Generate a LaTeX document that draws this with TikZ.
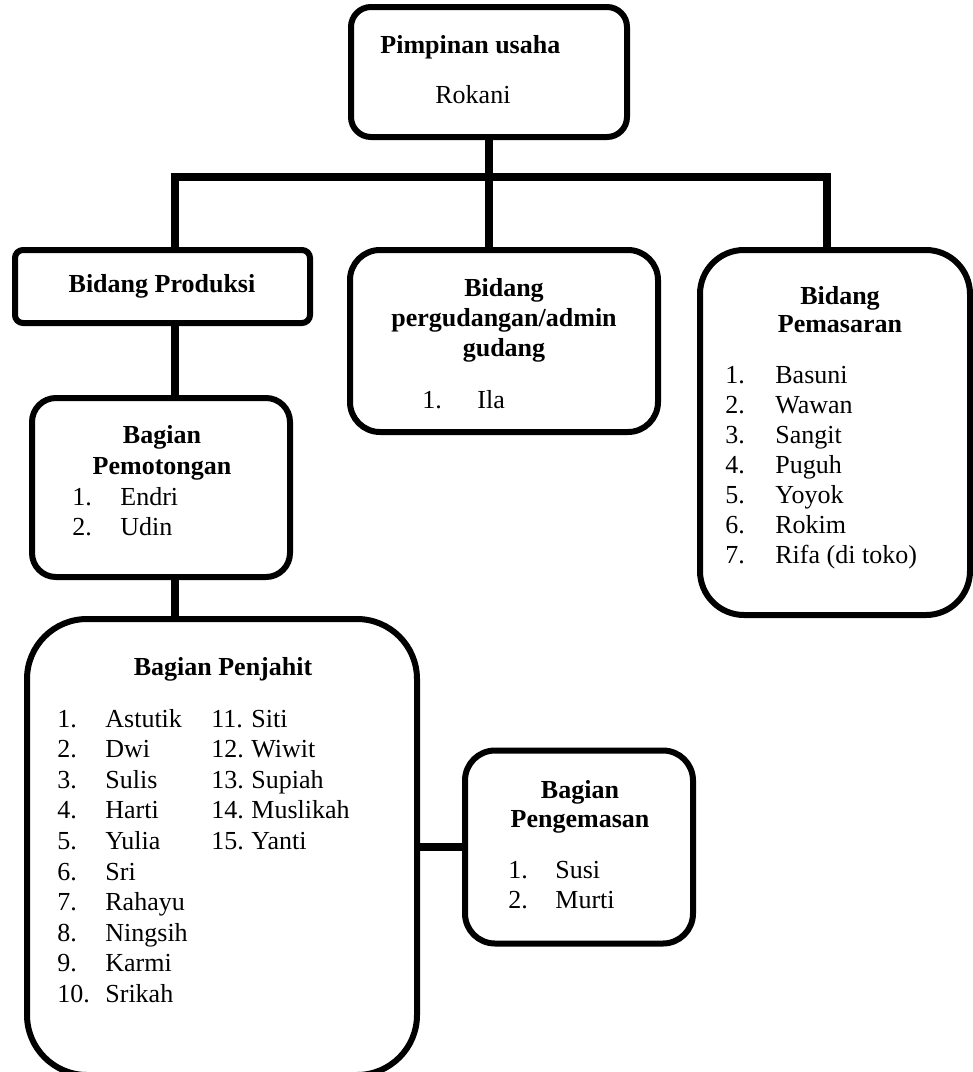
\documentclass[tikz,border=0pt]{standalone}
\usepackage{fontspec}
\setmainfont{Liberation Serif}
\usepackage{tikz}
\usetikzlibrary{calc}

\tikzset{
  box/.style={draw, line width=3pt, fill=white, rounded corners=#1, inner sep=0pt},
  link/.style={line width=4pt},
  txt/.style={inner sep=0pt, anchor=base, font=\fontsize{13}{15}\selectfont},
  ttl/.style={txt, font=\fontsize{13}{15}\selectfont\bfseries},
  lst/.style={txt, anchor=base west},
}

\begin{document}
\begin{tikzpicture}[x=0.5pt,y=-0.5pt]
  \useasboundingbox (0,0) rectangle (973,1072);
  \clip (0,0) rectangle (973,1072);
  % boxes
  \node[box=10pt, minimum width=138pt, minimum height=65pt] (pimp) at (489,72) {};
  \node[box=4pt, minimum width=147.5pt, minimum height=36.5pt] (prod) at (162.5,286.5) {};
  \node[box=15pt, minimum width=154pt, minimum height=91pt] (gud) at (504,341) {};
  \node[box=22pt, minimum width=135pt, minimum height=182.5pt] (mark) at (835,432.5) {};
  \node[box=12pt, minimum width=129pt, minimum height=89.5pt] (potong) at (161,487.5) {};
  \node[box=30pt, minimum width=195pt, minimum height=228pt] (jahit) at (222,847) {};
  \node[box=15pt, minimum width=114pt, minimum height=96.5pt] (kemas) at (579,847) {};
  % connectors
  \coordinate (busL) at (175,177);
  \coordinate (busR) at (827,177);
  \draw[link] (busL |- prod.north) -- (busL) -- (busR) -- (busR |- mark.north);
  \draw[link] (pimp.south) -- (pimp.south |- gud.north);
  \draw[link] (busL |- prod.south) -- (busL |- potong.north);
  \draw[link] (busL |- potong.south) -- (busL |- jahit.north);
  \draw[link] (jahit.east) -- (kemas.west);
  % pimpinan
  \node[ttl, anchor=base west] (pimpT) at (380,53) {Pimpinan usaha};
  \node[lst] (pimpN) at (435,103) {Rokani};
  % produksi
  \node[ttl] (prodT) at (162,292) {Bidang Produksi};
  % gudang
  \node[ttl] (gudT1) at (504,296) {Bidang};
  \node[ttl] (gudT2) at (504,326) {pergudangan/admin};
  \node[ttl] (gudT3) at (504,356) {gudang};
  \node[lst] (gudN1) at (422,408) {1.};
  \node[lst] (gud1) at (477,408) {Ila};
  % pemasaran
  \node[ttl] (markT1) at (840,304) {Bidang};
  \node[ttl] (markT2) at (840,332) {Pemasaran};
  \foreach \nm [count=\i] in {Basuni,Wawan,Sangit,Puguh,Yoyok,Rokim,Rifa (di toko)} {
    \node[lst] (markN\i) at (725,353+30*\i) {\i.};
    \node[lst] (mark\i) at (775,353+30*\i) {\nm};
  }
  % pemotongan
  \node[ttl] (potongT1) at (162,443) {Bagian};
  \node[ttl] (potongT2) at (162,474) {Pemotongan};
  \foreach \nm [count=\i] in {Endri,Udin} {
    \node[lst] (potongN\i) at (72,475+30*\i) {\i.};
    \node[lst] (potong\i) at (120,475+30*\i) {\nm};
  }
  % penjahit
  \node[ttl] (jahitT) at (223,675) {Bagian Penjahit};
  \foreach \nm [count=\i] in {Astutik,Dwi,Sulis,Harti,Yulia,Sri,Rahayu,Ningsih,Karmi,Srikah} {
    \node[lst] (jahitN\i) at (57,696.4+30.6*\i) {\i.};
    \node[lst] (jahit\i) at (105,696.4+30.6*\i) {\nm};
  }
  \foreach \nm [count=\i from 11] in {Siti,Wiwit,Supiah,Muslikah,Yanti} {
    \node[lst] (jahitN\i) at (211,696.4+30.6*\i-306) {\i.};
    \node[lst] (jahit\i) at (251,696.4+30.6*\i-306) {\nm};
  }
  % pengemasan
  \node[ttl] (kemasT1) at (580,798) {Bagian};
  \node[ttl] (kemasT2) at (580,827) {Pengemasan};
  \foreach \nm [count=\i] in {Susi,Murti} {
    \node[lst] (kemasN\i) at (508,848+30*\i) {\i.};
    \node[lst] (kemas\i) at (555,848+30*\i) {\nm};
  }
\end{tikzpicture}
\end{document}
